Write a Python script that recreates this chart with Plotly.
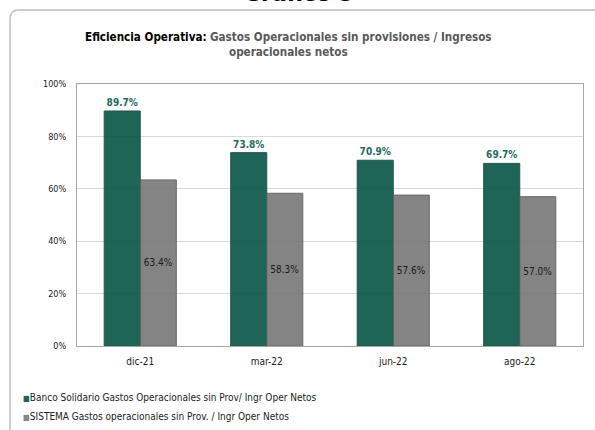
import plotly.graph_objects as go

# Periods and efficiency ratios (%)
periods = ["dic-21", "mar-22", "jun-22", "ago-22"]
banco_solidario = [89.7, 73.8, 70.9, 69.7]
sistema = [63.4, 58.3, 57.6, 57.0]
y_ticks = [0, 20, 40, 60, 80, 100]
y_tick_labels = ["0%", "20%", "40%", "60%", "80%", "100%"]

name_bs = "Banco Solidario Gastos Operacionales sin Prov/ Ingr Oper Netos"
name_sis = "SISTEMA Gastos operacionales sin Prov. / Ingr Oper Netos"

FONT = "DejaVu Sans Condensed, Liberation Sans Narrow, DejaVu Sans, sans-serif"
GREEN = "#1f6659"
GRAY = "#858585"
# Slightly translucent bars (gridlines show faintly through them)
GREEN_BAR = "#065546"
GRAY_BAR = "#777777"

fig = go.Figure()
fig.add_trace(go.Bar(
    x=periods, y=banco_solidario, name=name_bs,
    marker=dict(color=GREEN_BAR, opacity=0.9, line=dict(color="#0c4438", width=1)),
    text=[f"{v:.1f}%" for v in banco_solidario],
    textposition="outside", cliponaxis=False,
    textfont=dict(family=FONT, size=10, color="#1f6b5e", weight="bold"),
))
fig.add_trace(go.Bar(
    x=periods, y=sistema, name=name_sis,
    marker=dict(color=GRAY_BAR, opacity=0.9, line=dict(color="#5a5a5a", width=1)),
    text=[f"{v:.1f}%" for v in sistema],
    textposition="inside", insidetextanchor="middle",
    textfont=dict(family=FONT, size=10, color="#1a1a1a"),
))

# Plot-area geometry in pixels (used to place the frame and captions)
L, R, T, B = 77, 583, 84, 346
W, H = R - L, B - T

def px(x):
    return (x - L) / W

def py(y):
    return (B - y) / H

# Outer rounded frame around the chart
r = 9
frame = (f"M {px(10)},{py(440)} L {px(10)},{py(10 + r)} "
         f"Q {px(10)},{py(10)} {px(10 + r)},{py(10)} L {px(610)},{py(10)}")

# Legend drawn as text rows with a small coloured square
legend_rows = [(name_bs, GREEN, 397), (name_sis, GRAY, 416)]
legend_notes = [
    dict(text=f"<span style='color:{c};font-size:8px'>■</span>{n}", x=px(21), y=py(yy),
         xref="paper", yref="paper", xanchor="left", yanchor="middle",
         showarrow=False, font=dict(family=FONT, size=10, color="#222222"))
    for n, c, yy in legend_rows
]

fig.update_layout(
    width=595, height=430,
    margin=dict(l=L, r=595 - R, t=T, b=430 - B, autoexpand=False),
    paper_bgcolor="white", plot_bgcolor="white",
    barmode="group", bargap=0.43, bargroupgap=0,
    font=dict(family=FONT, size=10, color="#222222"),
    showlegend=False,
    xaxis=dict(
        showline=True, linecolor="#a6a6a6", linewidth=1, mirror=True,
        ticks="", tickfont=dict(family=FONT, size=10, color="#222222"),
        ticklabelstandoff=6,
    ),
    yaxis=dict(
        range=[0, 100], tickvals=y_ticks, ticktext=y_tick_labels,
        showgrid=True, gridcolor="#d9d9d9", gridwidth=1,
        showline=True, linecolor="#a6a6a6", linewidth=1, mirror=True,
        zeroline=False, ticks="", ticklen=0, ticklabelstandoff=8,
        tickfont=dict(family=FONT, size=9, color="#222222"),
    ),
    shapes=[dict(type="path", path=frame, xref="paper", yref="paper",
                 line=dict(color="#bfbfbf", width=1.5), layer="below")],
    annotations=[
        dict(text="<b>Gráfico 5</b>", x=px(298), y=py(8), xref="paper", yref="paper",
             xanchor="center", yanchor="bottom", showarrow=False,
             font=dict(family="DejaVu Sans", size=22, color="#000000")),
        dict(text="<b>Eficiencia Operativa:</b> <b><span style='color:#595959'>"
                  "Gastos Operacionales sin provisiones / Ingresos</span></b><br>"
                  "<b><span style='color:#595959'>operacionales netos</span></b>",
             x=px(288), y=py(45), xref="paper", yref="paper",
             xanchor="center", yanchor="middle", showarrow=False, align="center",
             font=dict(family=FONT, size=11.6, color="#000000")),
    ] + legend_notes,
)

fig.write_html("out.html")
